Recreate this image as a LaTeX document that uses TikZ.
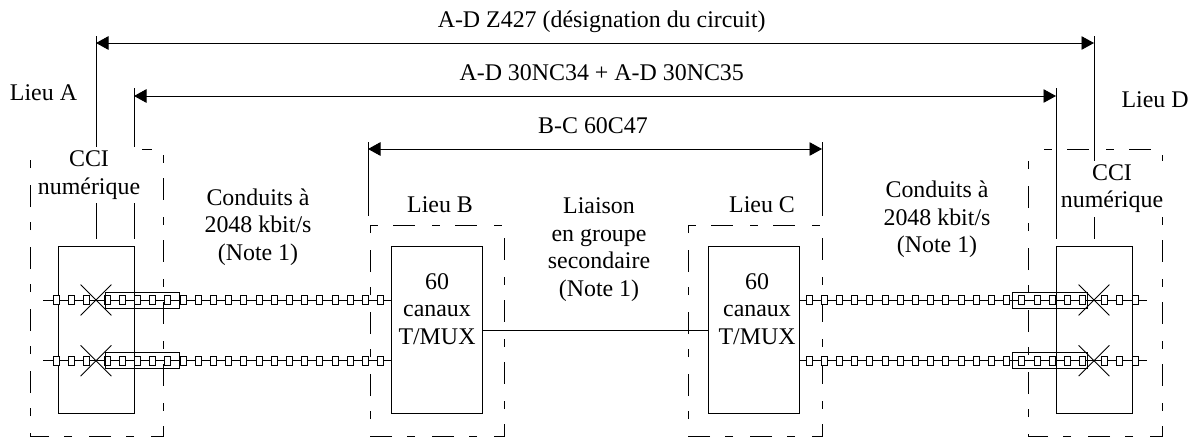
\documentclass[tikz,border=0pt]{standalone}
\usepackage{fontspec}
\setmainfont{Liberation Serif}
\usetikzlibrary{arrows.meta,shapes.misc}
\tikzset{
  lbl/.style={inner sep=0pt,anchor=base,align=center,font=\fontsize{23.9}{27.7}\selectfont},
  cci/.style={lbl,anchor=center,fill=white,inner xsep=2pt,minimum height=56pt},
  equip/.style={draw,line width=0.9pt,minimum width=76pt,minimum height=166.5pt,inner sep=0pt},
  mux/.style={equip,minimum width=91pt},
  sq/.style={draw,fill=white,line width=0.8pt,minimum width=6pt,minimum height=8.5pt,inner sep=0pt},
  sleeve/.style={draw,line width=0.8pt,minimum width=74pt,minimum height=16pt,inner sep=0pt},
  xc/.style={draw,cross out,line width=0.8pt,minimum size=30pt,inner sep=0pt},
  lieu/.style={line width=0.9pt,dash pattern=on 8pt off 15pt on 22pt off 17pt},
  dim/.style={line width=0.9pt,<->,>={Triangle[length=12.5pt,width=13.5pt]}},
  tick/.style={line width=0.9pt}
}
\begin{document}
\begin{tikzpicture}[x=1pt,y=-1pt]
  \useasboundingbox (0,0) rectangle (1198,437);
  % sites
  \draw[lieu,dash phase=47pt] (30,149) -- (163,149) -- (163,436) -- (30,436) -- cycle;
  \draw[lieu] (370,225) -- (504,225) -- (504,436) -- (370,436) -- cycle;
  \draw[lieu] (688,225) -- (822,225) -- (822,436) -- (688,436) -- cycle;
  \draw[lieu,dash phase=46pt] (1028,149) -- (1162,149) -- (1162,436) -- (1028,436) -- cycle;
  % equipment
  \node[equip] (ccia) at (96,330) {};
  \node[mux] (muxb) at (436.5,330) {};
  \node[mux] (muxc) at (754,330) {};
  \node[equip] (ccid) at (1094.5,330) {};
  \draw[line width=0.9pt] (muxb) to (muxc);
  % ends of the dimension lines
  \coordinate (za) at (96,43);
  \coordinate (zd) at (1094,43);
  \coordinate (na) at (134,96);
  \coordinate (nd) at (1056,96);
  \coordinate (ba) at (368,149);
  \coordinate (bd) at (822,149);
  \coordinate (zat) at (96,36);
  \coordinate (zab) at (96,239);
  \coordinate (nat) at (134,88);
  \coordinate (nab) at (134,239);
  \coordinate (zdt) at (1094,36);
  \coordinate (zdb) at (1094,239);
  \coordinate (ndt) at (1056,88);
  \coordinate (ndb) at (1056,239);
  \coordinate (bat) at (368,142);
  \coordinate (bab) at (368,216);
  \coordinate (bdt) at (822,142);
  \coordinate (bdb) at (822,216);
  \begin{scope}[tick]
    \draw (zat) to (zab);
    \draw (nat) to (nab);
    \draw (zdt) to (zdb);
    \draw (ndt) to (ndb);
    \draw (bat) to (bab);
    \draw (bdt) to (bdb);
  \end{scope}
  \draw[dim] (za) to (zd);
  \draw[dim] (na) to (nd);
  \draw[dim] (ba) to (bd);
  % the two rows of conduits
  \foreach \y/\r in {300/u,360.7/v} {
    \coordinate (wa\r) at (43,\y);
    \coordinate (wb\r) at (391,\y);
    \coordinate (wc\r) at (800,\y);
    \coordinate (wd\r) at (1147,\y);
    \draw[line width=0.9pt] (wa\r) to (wb\r);
    \draw[line width=0.9pt] (wc\r) to (wd\r);
    \foreach \n/\x in {1/56,2/71,3/86} \node[sq] (pa\r\n) at (\x,\y) {};
    \foreach \n/\x in {1/1104,2/1119,3/1135} \node[sq] (pd\r\n) at (\x,\y) {};
    \foreach \n in {0,...,18} {
      \node[sq] (pb\r\n) at ({107+15.2*\n},\y) {};
      \node[sq] (pc\r\n) at ({809+15.2*\n},\y) {};
    }
    \node[sleeve] (sa\r) at (142,\y) {};
    \node[sleeve,minimum width=75pt] (sd\r) at (1049.5,\y) {};
    \node[xc] (xa\r) at (96,\y) {};
    \node[xc] (xd\r) at (1094,\y) {};
  }
  % texts
  \node[lbl] (tz) at (601.7,27) {A-D Z427 (désignation du circuit)};
  \node[lbl] (tn) at (601.7,80) {A-D 30NC34 + A-D 30NC35};
  \node[lbl] (tb) at (593,133) {B-C 60C47};
  \node[lbl] (la) at (43.5,100) {Lieu A};
  \node[lbl] (ld) at (1155,107) {Lieu D};
  \node[lbl] (lb) at (440,212) {Lieu B};
  \node[lbl] (lc) at (762,212) {Lieu C};
  \node[cci] (ta) at (89,175) {CCI\\numérique};
  \node[cci] (td) at (1112,188.5) {CCI\\numérique};
  \node[lbl,anchor=center] (cl) at (258,227) {Conduits à\\2048 kbit/s\\(Note 1)};
  \node[lbl,anchor=center] (cr) at (937,219.5) {Conduits à\\2048 kbit/s\\(Note 1)};
  \node[lbl,anchor=center] (gr) at (599,249.5) {Liaison\\en groupe\\secondaire\\(Note 1)};
  \node[lbl,anchor=center] (mb) at (437,309) {60\\canaux\\T/MUX};
  \node[lbl,anchor=center] (mc) at (757,309) {60\\canaux\\T/MUX};
\end{tikzpicture}
\end{document}
